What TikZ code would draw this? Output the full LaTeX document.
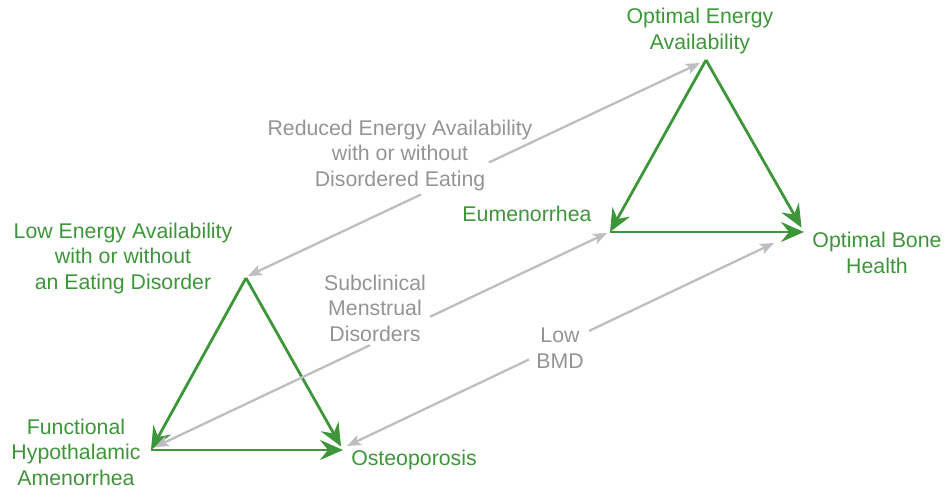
\documentclass[tikz,border=0pt]{standalone}
\usepackage{fontspec}
\setmainfont{Liberation Sans}
\usetikzlibrary{arrows.meta,calc}
\definecolor{leafgreen}{RGB}{61,150,57}
\definecolor{linegray}{RGB}{190,190,194}
\definecolor{labelgray}{RGB}{148,148,150}
\begin{document}
\begin{tikzpicture}[x=1pt,y=-1pt,
  every node/.style={inner sep=0pt, align=center, font=\fontsize{21.3}{25.5}\selectfont},
  state/.style={text=leafgreen},
  transition/.style={text=labelgray},
  flow/.style={draw=leafgreen, line width=2.8pt, -{Stealth[length=23pt,width=20pt,inset=8pt]}},
  link/.style={draw=linegray, line width=2.3pt, -{Stealth[length=14pt,width=11pt,inset=3.5pt]}},
]
\useasboundingbox (0,0) rectangle (950,489);

% triangle corners
\coordinate (oea) at (706,60);
\coordinate (eum) at (610,232);
\coordinate (obh) at (804,232);
\coordinate (lea) at (246,278);
\coordinate (fha) at (151,450);
\coordinate (ost) at (343,450);

% ends of the grey two-way links
\coordinate (r1) at (248,276);
\coordinate (r2) at (700,63);
\coordinate (s1) at (155,447);
\coordinate (s2) at (607,233);
\coordinate (b1) at (347,446);
\coordinate (b2) at (774,243);

% state labels
\node[state] at (700,31) {Optimal Energy\\Availability};
\node[state] at (527,214) {Eumenorrhea};
\node[state] at (877,253) {Optimal Bone\\Health};
\node[state] at (123,258) {Low Energy Availability\\with or without\\an Eating Disorder};
\node[state] at (76,452) {Functional\\Hypothalamic\\Amenorrhea};
\node[state] at (414,460) {Osteoporosis};

% transition labels
\node[transition] at (400,155) {Reduced Energy Availability\\with or without\\Disordered Eating};
\node[transition] at (375,308) {Subclinical\\Menstrual\\Disorders};
\node[transition] at (560,348) {Low\\BMD};

% green triads
\draw[flow] (oea) -- (eum);
\draw[flow, shorten >=5pt] (oea) -- (obh);
\draw[flow] (eum) -- (obh);
\draw[flow] (lea) -- (fha);
\draw[flow, shorten >=4pt] (lea) -- (ost);
\draw[flow] (fha) -- (ost);

% grey links, broken around their labels
\coordinate (r1g) at ($(r1)!0.383!(r2)$);
\coordinate (r2g) at ($(r1)!0.533!(r2)$);
\draw[link] (r1g) -- (r1);
\draw[link] (r2g) -- (r2);
\coordinate (s1g) at ($(s1)!0.476!(s2)$);
\coordinate (s2g) at ($(s1)!0.608!(s2)$);
\draw[link] (s1g) -- (s1);
\draw[link] (s2g) -- (s2);
\coordinate (b1g) at ($(b1)!0.426!(b2)$);
\coordinate (b2g) at ($(b1)!0.567!(b2)$);
\draw[link] (b1g) -- (b1);
\draw[link] (b2g) -- (b2);
\end{tikzpicture}
\end{document}
